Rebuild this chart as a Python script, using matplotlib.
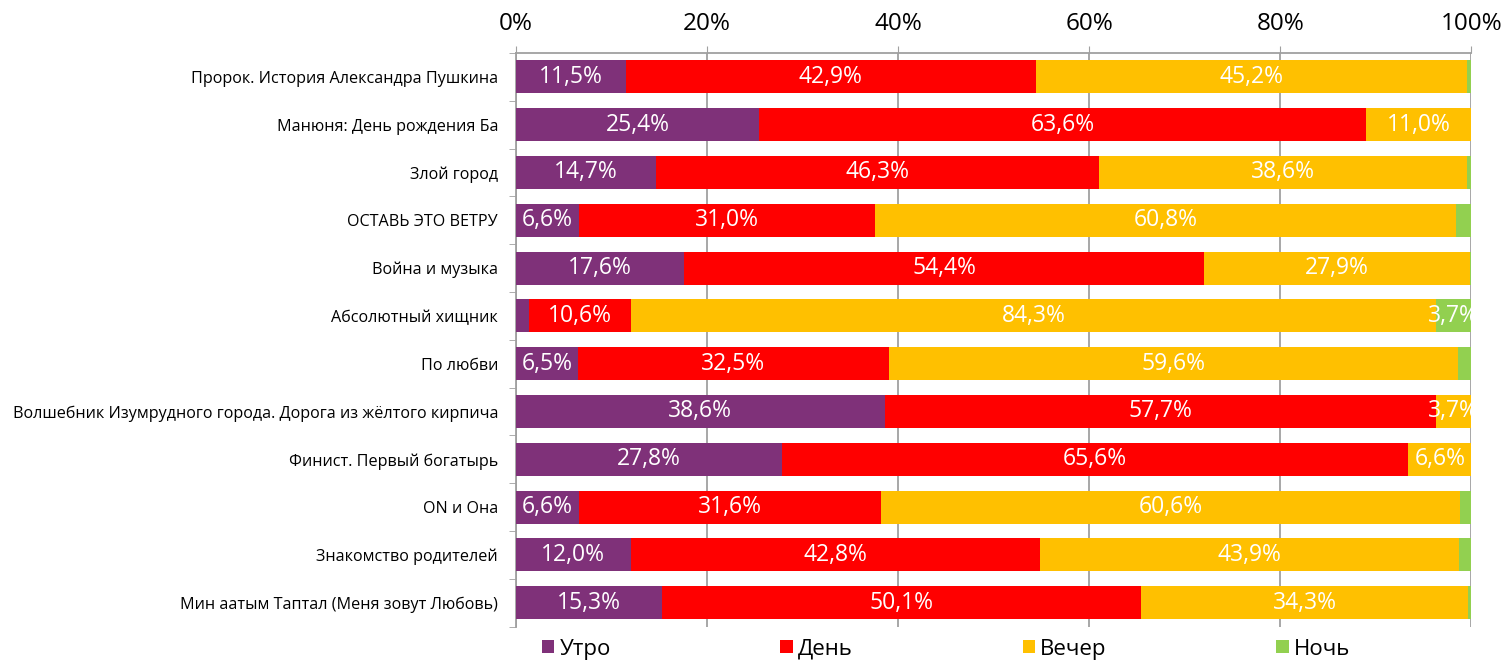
import numpy as np
import matplotlib.pyplot as plt
from matplotlib.ticker import FixedLocator, PercentFormatter

plt.rcParams['font.family'] = ['Open Sans', 'DejaVu Sans']

films = [
    'Пророк. История Александра Пушкина',
    'Манюня: День рождения Ба',
    'Злой город',
    'ОСТАВЬ ЭТО ВЕТРУ',
    'Война и музыка',
    'Абсолютный хищник',
    'По любви',
    'Волшебник Изумрудного города. Дорога из жёлтого кирпича',
    'Финист. Первый богатырь',
    'ON и Она',
    'Знакомство родителей',
    'Мин аатым Таптал (Меня зовут Любовь)',
]
utro = [11.5, 25.4, 14.7, 6.6, 17.6, 1.4, 6.5, 38.6, 27.8, 6.6, 12.0, 15.3]
den = [42.9, 63.6, 46.3, 31.0, 54.4, 10.6, 32.5, 57.7, 65.6, 31.6, 42.8, 50.1]
vecher = [45.2, 11.0, 38.6, 60.8, 27.9, 84.3, 59.6, 3.7, 6.6, 60.6, 43.9, 34.3]
noch = [0.4, 0.0, 0.4, 1.6, 0.1, 3.7, 1.4, 0.0, 0.0, 1.2, 1.3, 0.3]

series = [('Утро', utro, '#7F3179'), ('День', den, '#FF0000'),
          ('Вечер', vecher, '#FFC000'), ('Ночь', noch, '#92D050')]

fig = plt.figure(figsize=(15.09, 6.61), dpi=100)
ax = fig.add_axes([0.342, 0.052, 0.633, 0.868])

y = np.arange(len(films))
left = np.zeros(len(films))
for name, vals, col in series:
    vals = np.array(vals)
    ax.barh(y, vals, left=left, height=0.69, color=col, label=name, zorder=3)
    for yi, l, v in zip(y, left, vals):
        if v >= 3:
            ax.text(l + v / 2, yi, f'{v:.1f}%'.replace('.', ','), ha='center',
                    va='center', color='white', fontsize=16.5, zorder=4, clip_on=True)
    left += vals

ax.set_xlim(0, 100)
ax.set_ylim(len(films) - 0.5, -0.5)
ax.xaxis.tick_top()
ax.set_xticks(np.arange(0, 101, 20))
ax.xaxis.set_major_formatter(PercentFormatter(decimals=0))
ax.tick_params(axis='x', labelsize=17.5, length=5, color='#A0A0A0', pad=7)
ax.grid(axis='x', color='#A0A0A0', linewidth=1.3, zorder=0)

ax.set_yticks(y)
ax.set_yticklabels(films, fontsize=11.6)
ax.yaxis.set_minor_locator(FixedLocator(np.arange(-0.5, len(films), 1)))
ax.tick_params(axis='y', which='major', length=0, pad=13)
ax.tick_params(axis='y', which='minor', length=5, color='#A0A0A0')

for s in ['right', 'bottom']:
    ax.spines[s].set_visible(False)
for s in ['left', 'top']:
    ax.spines[s].set_color('#A0A0A0')
    ax.spines[s].set_linewidth(1.3)

fig.legend(loc='center left', bbox_to_anchor=(0.359, 0.018, 0.536, 0), mode='expand',
           ncol=4, frameon=False, fontsize=16, handlelength=0.55, handleheight=0.55,
           handletextpad=0.25, borderaxespad=0, borderpad=0)

fig.savefig('out.png', dpi=100)
